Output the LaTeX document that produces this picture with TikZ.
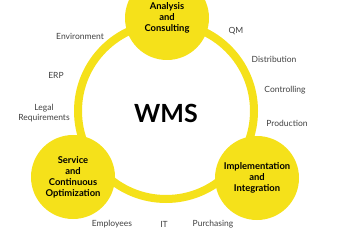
\documentclass[tikz,border=0pt]{standalone}
\usepackage{fontspec}
\setmainfont{Lato}
\usetikzlibrary{positioning}
\definecolor{wmsyellow}{HTML}{F5E11A}

\tikzset{
    phase/.style={circle, fill=wmsyellow, minimum size=84pt, inner sep=0pt,
        align=center, font=\fontsize{9.4}{11}\selectfont\bfseries},
    area/.style={align=center, text=black!75, font=\fontsize{8.5}{10}\selectfont}
}

\begin{document}
\begin{tikzpicture}[x=1pt, y=-1pt]
    \useasboundingbox (0,0) rectangle (344,229);

    % Outer ring
    \draw[wmsyellow, line width=8pt] (166,111) circle (88);
    \node[font=\fontsize{25}{25}\selectfont\bfseries] (wms) at (166,113) {WMS};

    % Phases
    \node[phase] (analysis) at (167,18) {Analysis\\and\\Consulting};
    \node[phase] (service) at (73,177) {Service\\and\\Continuous\\Optimization};
    \node[phase] (implementation) at (257,178) {Implementation\\and\\Integration};

    % Areas left
    \node[area] (environment) at (80,36) {Environment};
    \node[area] (erp) at (56,75) {ERP};
    \node[area] (legal) at (44,113) {Legal\\Requirements};

    % Areas right
    \node[area] (qm) at (236,31) {QM};
    \node[area] (distribution) at (274,59) {Distribution};
    \node[area] (controlling) at (285,90) {Controlling};
    \node[area] (production) at (287,123) {Production};

    % Areas bottom
    \node[area] (employees) at (112,224) {Employees};
    \node[area] (it) at (164,224) {IT};
    \node[area] (purchasing) at (213,224) {Purchasing};
\end{tikzpicture}
\end{document}
